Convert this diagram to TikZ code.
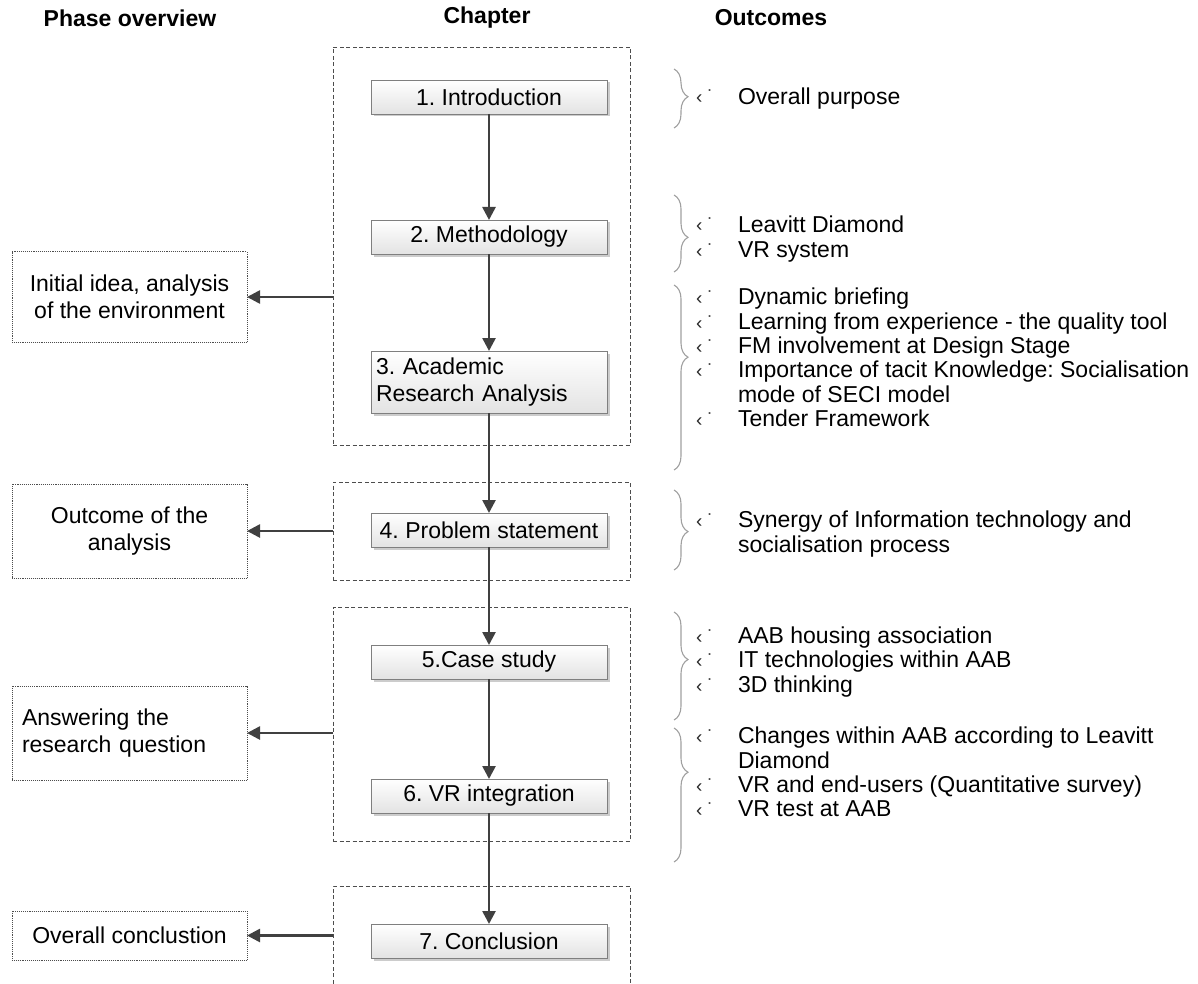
\documentclass[tikz,border=0pt]{standalone}
\usepackage{fontspec}
\setmainfont{Liberation Sans}
\usetikzlibrary{arrows.meta,shadows,decorations.pathreplacing}

\definecolor{flowgray}{HTML}{404040}
\definecolor{edgegray}{HTML}{7F7F7F}
\definecolor{bracegray}{HTML}{A0A0A0}
\definecolor{framegray}{HTML}{4D4D4D}

\newcommand\bodyfont{\fontsize{23}{27}\selectfont}
\newcommand\listfont{\fontsize{23}{24.5}\selectfont}
\newcommand\twoline[2]{\begin{tabular}[t]{@{}l@{}}#1\\#2\end{tabular}}
\frenchspacing

\begin{document}
\begin{tikzpicture}[x=1pt,y=-1pt,
  every node/.style={inner sep=0pt, outer sep=0pt},
  header/.style={font=\bodyfont\bfseries},
  chapbox/.style={draw=edgegray, line width=0.9pt, top color=white, bottom color=black!11,
    minimum width=236pt, minimum height=34pt, font=\bodyfont,
    drop shadow={shadow xshift=2.5pt, shadow yshift=-2.5pt, fill=black!20, opacity=1}},
  phasebox/.style={draw=framegray, densely dotted, line width=0.9pt, minimum width=235pt,
    font=\bodyfont, align=center},
  groupbox/.style={draw=framegray, dash pattern=on 4pt off 2.5pt, line width=0.8pt,
    minimum width=297pt},
  flow/.style={draw=flowgray, line width=2.6pt, -{Triangle[length=13pt,width=13pt]}},
  outbrace/.style={draw=bracegray, line width=1.1pt, decorate,
    decoration={brace, amplitude=14pt, aspect=#1}},
  item/.style={anchor=base west, yshift=-7.5pt, font=\listfont},
  bullet/.style={anchor=base west, yshift=-7pt, font=\fontsize{19}{20}\selectfont, text=black!85}
]
\useasboundingbox (0,0) rectangle (1198,984);

% column headers
\node[header] (hphase) at (130,18) {Phase overview};
\node[header] (hchap)  at (487,18) {Chapter};
\node[header] (hout)   at (771,18) {Outcomes};

% dashed chapter groups
\node[groupbox, minimum height=398pt] (g1) at (481.5,246) {};
\node[groupbox, minimum height=98pt]  (g2) at (481.5,531) {};
\node[groupbox, minimum height=234pt] (g3) at (481.5,724) {};
\coordinate (g4nw) at (333,886);
\coordinate (g4ne) at (630,886);
\draw[groupbox] (g4nw |- 0,990) -- (g4nw) -- (g4ne) -- (g4ne |- 0,990);

% chapters
\node[chapbox] (c1) at (489,97)  {1. Introduction};
\node[chapbox] (c2) at (489,237) {2. Methodology};
\node[chapbox, minimum height=62pt, text width=226pt, align=left] (c3) at (489,382)
  {3. Academic\\Research Analysis};
\node[chapbox] (c4) at (489,530) {4. Problem statement};
\node[chapbox] (c5) at (489,662) {5.Case study};
\node[chapbox] (c6) at (489,796) {6. VR integration};
\node[chapbox] (c7) at (489,941) {7. Conclusion};

\draw[flow] (c1.south) -- (c2.north);
\draw[flow] (c2.south) -- (c3.north);
\draw[flow] (c3.south) -- (c4.north);
\draw[flow] (c4.south) -- (c5.north);
\draw[flow] (c5.south) -- (c6.north);
\draw[flow] (c6.south) -- (c7.north);

% phase overview
\node[phasebox, minimum height=91pt] (p1) at (129.5,297) {Initial idea, analysis\\of the environment};
\node[phasebox, minimum height=94pt] (p2) at (129.5,531) {Outcome of the\\analysis};
\node[phasebox, minimum height=94pt, text width=215pt, align=left] (p3) at (129.5,733)
  {Answering the\\research question};
\node[phasebox, minimum height=49pt] (p4) at (129.5,935.5) {Overall conclustion};

\draw[flow] (p1.east -| g1.west) -- (p1.east);
\draw[flow] (p2.east -| g2.west) -- (p2.east);
\draw[flow] (p3.east -| g3.west) -- (p3.east);
\draw[flow] (p4.east -| g4nw) -- (p4.east);

% outcome braces
\draw[outbrace=0.47] (674,69)  -- (674,128);
\draw[outbrace=0.55] (674,195) -- (674,272);
\draw[outbrace=0.39] (674,285) -- (674,470);
\draw[outbrace=0.52] (674,490) -- (674,570);
\draw[outbrace=0.44] (674,612) -- (674,720);
\draw[outbrace=0.33] (674,728) -- (674,862);

% bullets
\foreach \y/\n in {97/a1, 225/b1, 250/b2, 297/c1, 322/c2, 346/c3, 370/c4, 419/c5,
                   520/d1, 636/e1, 660/e2, 685/e3, 736/f1, 785/f2, 809/f3}
  \node[bullet] (bul\n) at (696,\y) {‹\hspace{5pt}˙};

% outcome texts
\node[item] (oa1) at (738,97)  {Overall purpose};
\node[item] (ob1) at (738,225) {Leavitt Diamond};
\node[item] (ob2) at (738,250) {VR system};
\node[item] (oc1) at (738,297) {Dynamic briefing};
\node[item] (oc2) at (738,322) {Learning from experience - the quality tool};
\node[item] (oc3) at (738,346) {FM involvement at Design Stage};
\node[item] (oc4) at (738,370) {\twoline{Importance of tacit Knowledge: Socialisation}{mode of SECI model}};
\node[item] (oc5) at (738,419) {Tender Framework};
\node[item] (od1) at (738,520) {\twoline{Synergy of Information technology and}{socialisation process}};
\node[item] (oe1) at (738,636) {AAB housing association};
\node[item] (oe2) at (738,660) {IT technologies within AAB};
\node[item] (oe3) at (738,685) {3D thinking};
\node[item] (of1) at (738,736) {\twoline{Changes within AAB according to Leavitt}{Diamond}};
\node[item] (of2) at (738,785) {VR and end-users (Quantitative survey)};
\node[item] (of3) at (738,809) {VR test at AAB};
\end{tikzpicture}
\end{document}
